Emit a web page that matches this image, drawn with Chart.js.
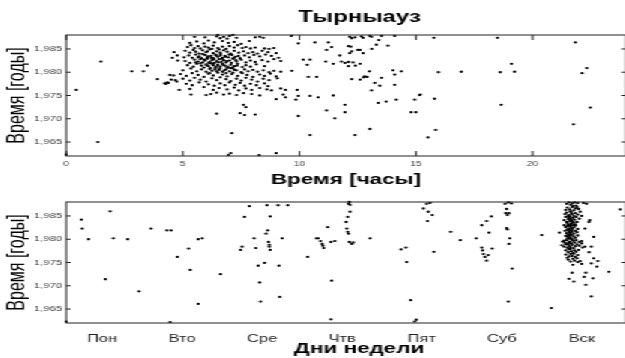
<!DOCTYPE html>
<html>
<head>
<meta charset="utf-8">
<script src="https://cdn.jsdelivr.net/npm/chart.js@4.4.0/dist/chart.umd.min.js"></script>
<style>
    html, body { margin: 0; padding: 0; background: #fff; overflow: hidden; width: 625px; height: 358px; }
    /* the source figure is stretched sideways, so the charts are drawn narrow and widened */
    .wrap { position: absolute; left: 0; top: 0; width: 420px; height: 358px; transform: scaleX(1.5); transform-origin: 0 0; }
    .wrap canvas { position: absolute; left: 0; }
    #hoursChart { top: 0; }
    #daysChart { top: 192px; }
</style>
</head>
<body>
<div class="wrap">
    <canvas id="hoursChart" width="420" height="192"></canvas>
    <canvas id="daysChart" width="420" height="166"></canvas>
</div>
<script>
const chartTitle = 'Тырныауз';
const yearTicks = [1965, 1970, 1975, 1980, 1985];
const hourTicks = [0, 5, 10, 15, 20];
const dayNames = ['Пон', 'Вто', 'Сре', 'Чтв', 'Пят', 'Суб', 'Вск'];

// [hour, year]
const hourPoints = [
    [0.0, 1962.3], [0.43, 1976.2], [1.36, 1965.0], [1.49, 1982.3], [2.81, 1980.2], [3.31, 1980.2], [3.48, 1981.4], [3.91, 1978.5],
    [4.22, 1977.6], [4.28, 1977.5], [4.33, 1977.8], [4.38, 1977.7], [4.45, 1979.4], [4.6, 1979.3], [4.5, 1978.4], [4.68, 1978.3],
    [4.74, 1978.0], [4.62, 1984.3], [4.55, 1983.1], [4.76, 1983.6], [4.78, 1982.5], [4.85, 1976.2],
    [5.5, 1987.6], [5.95, 1987.5], [6.45, 1987.7], [6.6, 1987.3], [6.75, 1987.6], [6.9, 1987.2], [7.0, 1987.8], [7.3, 1987.4],
    [8.1, 1987.5], [8.3, 1987.6], [8.45, 1987.4], [9.65, 1987.8], [6.5, 1988.0], [7.15, 1988.0],
    [5.3, 1986.3], [5.6, 1986.6], [5.9, 1986.2], [6.1, 1986.8], [6.35, 1986.4], [6.7, 1986.7], [6.95, 1986.3], [7.2, 1986.5],
    [7.5, 1986.1], [7.85, 1986.7], [9.95, 1986.2],
    [5.2, 1985.4], [5.35, 1985.8], [5.5, 1985.2], [5.65, 1985.6], [5.75, 1985.1], [5.95, 1985.5], [6.1, 1985.3], [6.3, 1985.7],
    [6.5, 1985.2], [6.7, 1985.5], [6.85, 1985.0], [7.0, 1985.6], [7.2, 1985.3], [7.35, 1985.8], [7.55, 1985.2], [7.7, 1985.4],
    [7.9, 1985.1], [8.1, 1985.3], [8.5, 1985.1], [8.7, 1985.0], [8.9, 1985.2],
    [5.1, 1984.6], [5.3, 1984.2], [5.45, 1984.8], [5.55, 1984.4], [5.7, 1984.0], [5.85, 1984.7], [6.0, 1984.3], [6.15, 1984.9],
    [6.3, 1984.1], [6.45, 1984.5], [6.6, 1984.2], [6.75, 1984.7], [6.9, 1984.4], [7.05, 1984.0], [7.2, 1984.6], [7.4, 1984.2],
    [7.6, 1984.5], [7.8, 1984.1], [8.0, 1984.3], [8.2, 1984.0], [8.4, 1984.6], [8.65, 1984.3], [9.0, 1984.1],
    [5.05, 1983.2], [5.25, 1983.6], [5.4, 1983.1], [5.55, 1983.8], [5.7, 1983.4], [5.8, 1983.0], [5.95, 1983.7], [6.05, 1983.2],
    [6.2, 1983.5], [6.3, 1983.0], [6.4, 1983.8], [6.5, 1983.3], [6.6, 1983.6], [6.7, 1983.1], [6.8, 1983.5], [6.95, 1983.2],
    [7.1, 1983.7], [7.25, 1983.3], [7.45, 1983.0], [7.65, 1983.6], [7.85, 1983.2], [8.05, 1983.7], [8.3, 1983.4], [8.55, 1983.8],
    [8.8, 1983.5], [9.1, 1983.1],
    [5.1, 1982.4], [5.3, 1982.0], [5.5, 1982.7], [5.65, 1982.3], [5.75, 1982.8], [5.85, 1982.1], [5.95, 1982.5], [6.05, 1982.9],
    [6.15, 1982.2], [6.25, 1982.6], [6.35, 1982.0], [6.45, 1982.4], [6.55, 1982.8], [6.65, 1982.2], [6.75, 1982.6], [6.85, 1982.1],
    [7.0, 1982.5], [7.15, 1982.9], [7.3, 1982.3], [7.5, 1982.7], [7.7, 1982.1], [7.9, 1982.5], [8.1, 1982.2], [8.4, 1982.6],
    [8.65, 1982.3], [8.9, 1982.8], [9.2, 1982.4],
    [5.2, 1981.5], [5.45, 1981.2], [5.6, 1981.8], [5.8, 1981.4], [5.9, 1981.0], [6.0, 1981.7], [6.1, 1981.3], [6.2, 1981.9],
    [6.3, 1981.5], [6.4, 1981.1], [6.5, 1981.6], [6.6, 1981.2], [6.7, 1981.8], [6.8, 1981.4], [6.9, 1981.0], [7.05, 1981.6],
    [7.2, 1981.3], [7.35, 1981.8], [7.55, 1981.1], [7.7, 1981.5], [7.9, 1981.2], [8.15, 1981.7], [8.5, 1981.3],
    [5.0, 1980.4], [5.35, 1980.8], [5.6, 1980.2], [5.8, 1980.6], [6.0, 1980.1], [6.15, 1980.7], [6.25, 1980.3], [6.4, 1980.9],
    [6.55, 1980.5], [6.7, 1980.1], [6.85, 1980.6], [7.0, 1980.2], [7.15, 1980.8], [7.3, 1980.4], [7.5, 1980.0], [7.65, 1980.6],
    [7.8, 1980.2], [8.0, 1980.5], [8.2, 1980.1], [8.45, 1980.4], [8.7, 1980.0], [8.9, 1980.3], [9.2, 1980.1],
    [4.9, 1979.6], [5.15, 1979.2], [5.4, 1979.8], [5.65, 1979.4], [5.9, 1979.0], [6.1, 1979.7], [6.3, 1979.3], [6.5, 1979.9],
    [6.7, 1979.5], [6.9, 1979.1], [7.1, 1979.6], [7.35, 1979.2], [7.55, 1979.8], [7.75, 1979.4], [8.0, 1979.0], [8.3, 1979.5],
    [8.5, 1979.2], [8.75, 1979.7], [9.0, 1979.1],
    [5.0, 1978.6], [5.3, 1978.2], [5.5, 1978.8], [5.75, 1978.4], [6.0, 1978.0], [6.25, 1978.7], [6.45, 1978.3], [6.6, 1978.9],
    [6.85, 1978.5], [7.05, 1978.1], [7.3, 1978.6], [7.5, 1978.2], [7.7, 1978.8], [7.95, 1978.4], [8.2, 1978.0], [8.45, 1978.6],
    [8.7, 1978.3], [9.05, 1978.7],
    [5.15, 1977.5], [5.4, 1977.2], [5.7, 1977.8], [6.1, 1977.4], [6.35, 1977.1], [6.6, 1977.6], [6.8, 1977.2], [7.0, 1977.8],
    [7.25, 1977.3], [7.45, 1977.7], [7.65, 1977.1], [7.9, 1977.5], [8.15, 1977.2], [8.5, 1977.6], [8.65, 1977.0],
    [5.3, 1976.4], [5.9, 1976.8], [6.3, 1976.2], [6.55, 1976.6], [6.9, 1976.3], [7.2, 1976.7], [7.4, 1976.1], [7.7, 1976.5],
    [7.95, 1976.2], [8.3, 1976.6], [8.6, 1976.3], [8.8, 1976.1], [9.2, 1976.5], [9.4, 1976.2], [9.9, 1976.2],
    [5.35, 1975.2], [6.0, 1975.1], [6.2, 1975.3], [6.45, 1975.6], [6.75, 1975.2], [7.0, 1975.4], [7.3, 1975.1], [7.6, 1975.5],
    [7.95, 1975.3], [8.3, 1975.0], [9.3, 1975.2], [9.95, 1974.9],
    [7.6, 1973.0], [7.7, 1972.5], [9.0, 1974.2], [9.4, 1974.6], [9.85, 1974.1], [6.45, 1971.1], [7.45, 1971.2], [7.65, 1970.8],
    [8.1, 1970.9], [9.95, 1970.6], [7.1, 1966.9], [6.95, 1962.2], [7.05, 1962.6], [8.27, 1962.2], [9.0, 1962.6], [9.67, 1980.3],
    [5.85, 1983.9], [5.92, 1982.7], [6.02, 1981.5], [6.08, 1983.4], [6.12, 1982.0], [6.18, 1980.9], [6.22, 1983.1], [6.28, 1981.8],
    [6.33, 1982.8], [6.38, 1980.6], [6.42, 1983.6], [6.48, 1981.4], [6.52, 1982.1], [6.58, 1980.8], [6.62, 1983.9], [6.68, 1982.9],
    [6.72, 1981.6], [6.78, 1980.4], [6.82, 1983.3], [6.88, 1982.4], [6.92, 1981.2], [6.98, 1983.8], [7.02, 1980.9], [7.08, 1982.0],
    [7.12, 1981.0], [7.18, 1983.0], [7.22, 1980.5], [7.28, 1982.6], [7.32, 1981.4], [7.38, 1983.5], [6.05, 1984.5], [6.25, 1985.0],
    [6.55, 1984.9], [6.15, 1979.8], [6.45, 1980.2], [6.85, 1979.8], [7.15, 1979.9], [5.75, 1981.9], [5.65, 1983.2], [5.55, 1982.1],
    [10.16, 1982.7], [10.45, 1982.7], [10.33, 1981.6], [10.66, 1986.4], [11.24, 1986.4], [11.38, 1985.4], [11.16, 1984.8],
    [12.1, 1985.6], [12.2, 1985.5], [12.5, 1984.8], [12.6, 1984.8], [12.73, 1984.1], [13.1, 1985.0], [13.3, 1985.9], [13.4, 1986.9],
    [13.8, 1985.7], [11.73, 1983.6], [12.16, 1984.1], [12.24, 1984.5], [11.13, 1982.3], [11.45, 1981.8], [11.8, 1982.3],
    [11.95, 1982.0], [12.1, 1982.2], [12.3, 1982.1], [12.1, 1981.3], [12.4, 1981.4], [12.6, 1981.8], [13.0, 1980.2], [14.02, 1980.4],
    [14.09, 1979.5], [14.38, 1980.2], [10.38, 1979.0], [10.74, 1979.0], [12.24, 1978.5], [12.6, 1978.4], [12.75, 1978.9],
    [12.8, 1979.1], [12.9, 1979.0], [13.23, 1977.7], [13.45, 1977.1], [13.52, 1978.8], [14.09, 1977.3], [13.09, 1976.1],
    [10.45, 1974.9], [10.8, 1974.6], [11.45, 1975.0], [13.38, 1973.4], [13.73, 1973.7], [14.16, 1974.1], [14.95, 1974.1],
    [15.16, 1975.1], [11.16, 1971.8], [11.95, 1973.0], [11.95, 1971.4], [11.52, 1970.1], [14.8, 1971.4], [15.0, 1971.4],
    [10.45, 1966.5], [12.38, 1966.5], [13.02, 1967.8], [15.52, 1966.0],
    [12.16, 1987.6], [12.24, 1987.3], [12.38, 1987.5], [12.66, 1987.7], [12.73, 1987.4], [13.02, 1987.8], [13.09, 1987.6],
    [13.52, 1987.8], [14.09, 1987.8],
    [15.77, 1987.4], [18.5, 1987.4], [21.84, 1986.4], [19.1, 1981.8], [15.97, 1980.0], [16.95, 1980.1], [18.62, 1980.0],
    [19.23, 1980.1], [22.13, 1979.8], [22.33, 1980.9], [15.19, 1975.2], [15.8, 1974.3], [18.66, 1973.0], [22.48, 1972.4],
    [15.85, 1967.6], [21.76, 1968.8]
];

// [day index (0 = Пон), year]
const dayPoints = [
    [-0.45, 1962.3], [-0.26, 1984.2], [-0.25, 1982.3], [-0.17, 1980.0], [0.1, 1986.0], [0.14, 1980.2], [0.04, 1971.4], [0.32, 1980.0],
    [0.46, 1968.8], [0.61, 1982.3], [0.81, 1981.9], [0.86, 1981.9], [0.85, 1962.2], [0.94, 1976.2], [1.08, 1978.0], [1.1, 1973.4],
    [1.2, 1980.0], [1.25, 1980.2], [1.2, 1966.1], [1.48, 1972.5],
    [1.73, 1977.7], [1.75, 1978.4], [1.78, 1984.8], [1.84, 1987.1], [1.9, 1980.2], [1.92, 1978.1], [1.95, 1974.3], [1.97, 1970.7],
    [1.98, 1966.6], [2.03, 1974.9], [2.05, 1981.2], [2.07, 1981.9], [2.06, 1987.3], [2.08, 1979.4], [2.09, 1978.8], [2.09, 1978.4],
    [2.1, 1977.7], [2.1, 1984.9], [2.2, 1987.3], [2.21, 1974.3], [2.22, 1967.6], [2.25, 1980.2], [2.32, 1987.3], [2.57, 1976.2],
    [2.68, 1980.2],
    [2.7, 1980.2], [2.73, 1979.6], [2.75, 1979.0], [2.77, 1978.1], [2.76, 1978.6], [2.82, 1982.6], [2.86, 1979.4], [2.91, 1979.6],
    [2.87, 1971.1], [2.86, 1962.8], [3.08, 1987.6], [3.1, 1987.4], [3.09, 1988.0], [3.1, 1985.9], [3.07, 1984.8], [3.05, 1983.7],
    [3.06, 1982.3], [3.07, 1981.6], [3.08, 1981.2], [3.09, 1979.4], [3.12, 1979.0], [3.14, 1979.3], [3.35, 1980.2],
    [3.74, 1977.8], [3.8, 1978.2], [3.81, 1975.1], [3.86, 1966.9], [3.91, 1962.3], [3.93, 1962.7], [4.02, 1986.6], [4.06, 1987.6],
    [4.1, 1987.8], [4.08, 1985.9], [4.13, 1985.2], [4.07, 1983.9], [4.15, 1977.3], [4.36, 1981.6], [4.48, 1979.8],
    [4.68, 1980.2], [4.75, 1983.0], [4.81, 1983.9], [4.87, 1984.9], [4.84, 1981.4], [4.75, 1978.2], [4.76, 1977.6], [4.77, 1976.8],
    [4.79, 1976.2], [4.83, 1976.6], [4.81, 1975.4], [4.88, 1978.0], [5.04, 1987.6], [5.08, 1987.9], [5.12, 1987.7], [5.06, 1986.5],
    [5.09, 1985.6], [5.05, 1985.6], [5.07, 1985.2], [5.06, 1982.4], [5.07, 1982.1], [5.1, 1980.2], [5.09, 1979.0], [5.13, 1973.7],
    [5.08, 1966.6], [5.5, 1980.9], [5.62, 1965.2], [5.72, 1981.4],
    [6.48, 1986.4], [6.12, 1967.7], [6.05, 1970.2], [5.84, 1971.5], [5.88, 1972.8], [5.9, 1970.9], [6.03, 1971.9], [6.05, 1972.8],
    [6.14, 1971.6], [6.19, 1974.1], [6.34, 1973.0], [6.12, 1974.8], [6.15, 1975.9], [6.2, 1975.3], [6.09, 1977.2], [6.12, 1978.4],
    [6.15, 1980.5], [6.09, 1983.7], [6.1, 1984.1], [5.98, 1985.9], [6.0, 1985.0], [6.04, 1982.3], [6.0, 1979.1], [6.04, 1978.4],
    [5.89, 1974.5], [5.95, 1975.1], [6.0, 1974.7], [6.02, 1987.8], [6.06, 1987.6], [5.82, 1982.1], [5.78, 1983.0],
    [5.84, 1987.9], [5.88, 1987.7], [5.91, 1987.9], [5.86, 1987.4], [5.93, 1987.2], [5.81, 1987.6], [5.95, 1987.8], [5.89, 1987.1],
    [5.82, 1986.8], [5.85, 1986.4], [5.88, 1986.9], [5.9, 1986.2], [5.92, 1986.6], [5.86, 1986.0], [5.94, 1986.9], [5.8, 1986.3],
    [5.96, 1986.5],
    [5.81, 1985.7], [5.84, 1985.2], [5.86, 1985.9], [5.88, 1985.4], [5.9, 1985.0], [5.92, 1985.6], [5.83, 1985.0], [5.87, 1985.6],
    [5.95, 1985.3], [5.79, 1985.4],
    [5.8, 1984.8], [5.83, 1984.3], [5.85, 1984.9], [5.87, 1984.1], [5.89, 1984.6], [5.91, 1984.2], [5.84, 1984.6], [5.93, 1984.8],
    [5.86, 1984.4], [5.97, 1984.4], [5.78, 1984.1],
    [5.81, 1983.7], [5.83, 1983.2], [5.85, 1983.9], [5.87, 1983.4], [5.89, 1983.0], [5.9, 1983.6], [5.92, 1983.2], [5.86, 1983.0],
    [5.94, 1983.7], [5.82, 1983.5], [5.88, 1983.8],
    [5.8, 1982.6], [5.82, 1982.9], [5.84, 1982.3], [5.86, 1982.7], [5.88, 1982.1], [5.9, 1982.5], [5.92, 1982.9], [5.87, 1982.4],
    [5.83, 1982.0], [5.95, 1982.2], [5.85, 1982.9],
    [5.79, 1981.8], [5.81, 1981.3], [5.84, 1981.7], [5.86, 1981.1], [5.88, 1981.6], [5.9, 1981.2], [5.92, 1981.8], [5.85, 1981.4],
    [5.83, 1981.0], [5.94, 1981.5], [5.87, 1981.9],
    [5.8, 1980.7], [5.82, 1980.2], [5.84, 1980.8], [5.86, 1980.4], [5.88, 1980.0], [5.9, 1980.6], [5.85, 1980.1], [5.87, 1980.9],
    [5.92, 1980.3], [5.95, 1980.8], [5.83, 1980.5],
    [5.76, 1979.5], [5.79, 1979.2], [5.81, 1979.8], [5.83, 1979.0], [5.85, 1979.5], [5.87, 1979.1], [5.89, 1979.7], [5.91, 1979.3],
    [5.84, 1979.3], [5.93, 1979.8], [5.97, 1979.4], [5.78, 1979.7], [6.0, 1979.6],
    [5.75, 1978.7], [5.78, 1978.4], [5.8, 1978.9], [5.82, 1978.2], [5.84, 1978.6], [5.86, 1978.3], [5.88, 1978.8], [5.9, 1978.1],
    [5.92, 1978.5], [5.94, 1978.9], [5.83, 1978.0], [5.97, 1978.6], [6.01, 1978.2],
    [5.8, 1977.6], [5.83, 1977.2], [5.85, 1977.8], [5.87, 1977.4], [5.89, 1977.0], [5.91, 1977.6], [5.93, 1977.3], [5.86, 1977.9],
    [5.96, 1977.7],
    [5.8, 1976.7], [5.84, 1976.3], [5.86, 1976.8], [5.88, 1976.4], [5.9, 1976.9], [5.92, 1976.2], [5.95, 1976.6], [5.82, 1976.0],
    [5.83, 1975.6], [5.86, 1975.2], [5.89, 1975.8], [5.91, 1975.4], [5.94, 1975.9], [5.98, 1975.3]
];

Chart.defaults.font.family = "'Liberation Sans', Arial, sans-serif";
Chart.defaults.color = '#333';

// box round the plot with short inward tick marks, like the original figure
const framePlugin = {
    id: 'frame',
    afterDatasetsDraw(chart, args, opts) {
        const { ctx, chartArea: a, scales: { x, y } } = chart;
        ctx.save();
        ctx.strokeStyle = '#222';
        ctx.lineWidth = 1;
        ctx.strokeRect(a.left, a.top, a.right - a.left, a.bottom - a.top);
        ctx.beginPath();
        y.ticks.forEach(t => {
            const py = y.getPixelForValue(t.value);
            ctx.moveTo(a.left, py); ctx.lineTo(a.left + 3, py);
            ctx.moveTo(a.right, py); ctx.lineTo(a.right - 3, py);
        });
        if (opts.xMarks) {
            x.ticks.forEach(t => {
                const px = x.getPixelForValue(t.value);
                ctx.moveTo(px, a.top); ctx.lineTo(px, a.top + 5);
                ctx.moveTo(px, a.bottom); ctx.lineTo(px, a.bottom - 5);
            });
        }
        ctx.stroke();
        ctx.restore();
    }
};

// bold captions sit a little right of the plot centre in the source
const headingPlugin = {
    id: 'heading',
    afterDraw(chart, args, opts) {
        if (!opts.text) return;
        const { ctx, chartArea: a } = chart;
        ctx.save();
        ctx.font = 'bold ' + opts.size + 'px ' + Chart.defaults.font.family;
        ctx.fillStyle = '#000';
        ctx.textAlign = 'center';
        ctx.textBaseline = 'middle';
        ctx.fillText(opts.text, (a.left + a.right) / 2 + opts.shift, opts.y);
        ctx.restore();
    }
};

const yearAxis = () => ({
    min: 1962,
    max: 1988,
    afterBuildTicks: s => { s.ticks = yearTicks.map(v => ({ value: v })); },
    afterFit: s => { s.width = 44; },
    grid: { display: false, drawTicks: false },
    border: { display: false },
    ticks: { font: { size: 7.5 }, color: '#444', padding: 2.7 },
    title: { display: true, text: 'Время [годы]', color: '#000', font: { size: 16 }, padding: { top: 2.4, bottom: 0 } }
});

const dotSet = pts => ({
    data: pts.map(p => ({ x: p[0], y: p[1] })),
    backgroundColor: '#000',
    borderWidth: 0,
    pointRadius: 1.15,
    pointHoverRadius: 1.15,
    clip: 2
});

new Chart(document.getElementById('hoursChart'), {
    type: 'scatter',
    data: { datasets: [dotSet(hourPoints)] },
    options: {
        responsive: false,
        animation: false,
        events: [],
        layout: { padding: { left: 0, right: 2.7, top: 35, bottom: 0 } },
        scales: {
            x: {
                type: 'linear',
                min: 0,
                max: 24,
                afterBuildTicks: s => { s.ticks = hourTicks.map(v => ({ value: v })); },
                afterFit: s => { s.height = 36; },
                grid: { display: false, drawTicks: false },
                border: { display: false },
                ticks: { font: { size: 7 }, color: '#444', padding: 3.5, maxRotation: 0 },
                title: { display: true, text: 'Время [часы]', color: '#000', font: { size: 15, weight: 'bold' }, padding: { top: 0, bottom: 3 } }
            },
            y: yearAxis()
        },
        plugins: {
            legend: { display: false },
            tooltip: { enabled: false },
            frame: { xMarks: true },
            heading: { text: chartTitle, size: 16, shift: 9, y: 17.6 }
        }
    },
    plugins: [framePlugin, headingPlugin]
});

new Chart(document.getElementById('daysChart'), {
    type: 'scatter',
    data: { datasets: [dotSet(dayPoints)] },
    options: {
        responsive: false,
        animation: false,
        events: [],
        layout: { padding: { left: 0, right: 2.7, top: 10, bottom: 0 } },
        scales: {
            x: {
                type: 'linear',
                min: -0.45,
                max: 6.55,
                afterBuildTicks: s => { s.ticks = dayNames.map((d, i) => ({ value: i })); },
                afterFit: s => { s.height = 35; },
                grid: { display: false, drawTicks: false },
                border: { display: false },
                ticks: { font: { size: 11 }, color: '#222', padding: 9, maxRotation: 0, callback: v => dayNames[v] }
            },
            y: yearAxis()
        },
        plugins: {
            legend: { display: false },
            tooltip: { enabled: false },
            frame: { xMarks: false },
            heading: { text: 'Дни недели', size: 15, shift: 8.7, y: 157 }
        }
    },
    plugins: [framePlugin, headingPlugin]
});
</script>
</body>
</html>
